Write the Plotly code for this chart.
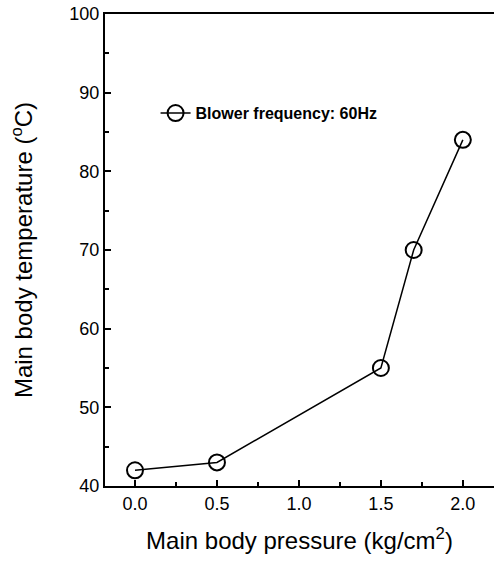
import plotly.graph_objects as go

pressure = [0.0, 0.5, 1.5, 1.7, 2.0]
temperature = [42, 43, 55, 70, 84]
series_name = "<b>Blower frequency: 60Hz</b>"

x_ticks = [0, 0.5, 1.0, 1.5, 2.0]
x_ticklabels = ["0.0", "0.5", "1.0", "1.5", "2.0"]
y_ticks = [40, 50, 60, 70, 80, 90, 100]

fig = go.Figure()
fig.add_trace(go.Scatter(
    x=pressure, y=temperature, name=series_name,
    mode="lines+markers",
    line=dict(color="black", width=1.5),
    marker=dict(symbol="circle-open", size=16, color="black", line=dict(width=2)),
))

font = "Liberation Sans, Arial, sans-serif"
fig.update_layout(
    width=494, height=564,
    margin=dict(l=105, r=0, t=14, b=78),
    paper_bgcolor="white", plot_bgcolor="white",
    font=dict(family=font, color="black"),
    showlegend=True,
    legend=dict(x=0.13, y=0.79, xanchor="left", yanchor="middle",
                bgcolor="rgba(0,0,0,0)", font=dict(size=16, family=font),
                itemwidth=30),
)
fig.update_xaxes(
    range=[-0.183, 2.19], tickvals=x_ticks, ticktext=x_ticklabels,
    ticks="inside", ticklen=6, tickwidth=1.5, tickcolor="black",
    minor=dict(dtick=0.25, tick0=0, ticks="inside", ticklen=4, tickwidth=1.5, tickcolor="black"),
    showline=True, linecolor="black", linewidth=2, mirror=True,
    showgrid=False, zeroline=False, automargin=False, ticklabeloverflow="allow",
    tickfont=dict(size=18),
    title=dict(text="Main body pressure (kg/cm<sup>2</sup>)", font=dict(size=24), standoff=20),
)
fig.update_yaxes(
    range=[40, 100], tickvals=y_ticks,
    ticks="inside", ticklen=6, tickwidth=1.5, tickcolor="black",
    minor=dict(dtick=5, tick0=40, ticks="inside", ticklen=4, tickwidth=1.5, tickcolor="black"),
    showline=True, linecolor="black", linewidth=2,
    showgrid=False, zeroline=False, automargin=False, ticklabeloverflow="allow",
    tickfont=dict(size=18),
    title=dict(text="Main body temperature (<sup>o</sup>C)", font=dict(size=24), standoff=30),
)
fig.write_html("out.html", config={"displayModeBar": False},
               post_script="document.body.style.margin='0';")
